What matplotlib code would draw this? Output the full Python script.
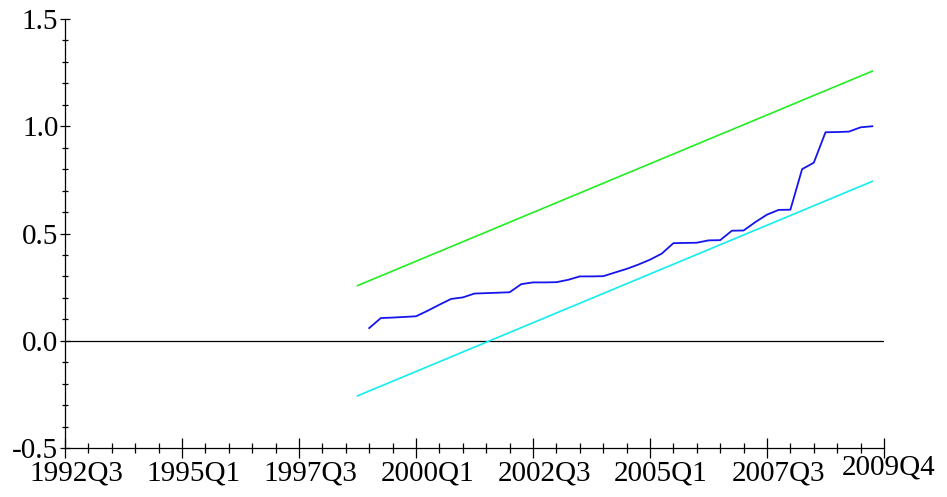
import matplotlib.pyplot as plt
from matplotlib.ticker import MultipleLocator
import matplotlib.transforms as mtransforms
import numpy as np

plt.rcParams['font.family'] = ['Liberation Serif', 'DejaVu Serif']

# quarter index, 0 = 1992Q3 ... 69 = 2009Q4
tick_pos = [0, 10, 20, 30, 40, 50, 60, 70]
tick_labels = ['1992Q3', '1995Q1', '1997Q3', '2000Q1', '2002Q3', '2005Q1',
               '2007Q3', '2009Q4']

# CUSUM of squares (1998Q4+1 .. 2009Q4)
cusumsq_x = np.arange(26, 70)
cusumsq = [0.059, 0.106, 0.108, 0.111, 0.114, 0.140, 0.168, 0.195, 0.202,
           0.220, 0.222, 0.224, 0.226, 0.264, 0.272, 0.272, 0.273, 0.284,
           0.300, 0.300, 0.301, 0.318, 0.335, 0.355, 0.378, 0.406, 0.455,
           0.456, 0.457, 0.468, 0.469, 0.513, 0.514, 0.553, 0.588, 0.610,
           0.611, 0.800, 0.830, 0.972, 0.973, 0.975, 0.995, 1.000]

# 5% bands
band_x = [25, 69]
upper = [0.257, 1.257]
lower = [-0.257, 0.743]

fig = plt.figure(figsize=(9.47, 4.97), dpi=100, facecolor='w')
ax = fig.add_axes([65/947, 49/497, (884-65)/947, (448-19)/497])

ax.axhline(0, color='black', lw=0.9)
ax.plot(band_x, upper, color='#22ee22', lw=1.2)
ax.plot(band_x, lower, color='#11eeee', lw=1.2)
ax.plot(cusumsq_x, cusumsq, color='#1515ee', lw=1.3)

ax.set_xlim(0, 70)
ax.set_ylim(-0.5, 1.5)
for s in ['top', 'right']:
    ax.spines[s].set_visible(False)
for s in ['left', 'bottom']:
    ax.spines[s].set_linewidth(0.9)

ax.set_xticks(tick_pos)
ax.set_xticklabels(tick_labels)
ax.xaxis.set_minor_locator(MultipleLocator(2))
ax.set_yticks([-0.5, 0.0, 0.5, 1.0, 1.5])
ax.set_yticklabels(['-0.5', '0.0', '0.5', '1.0', '1.5'])
ax.yaxis.set_minor_locator(MultipleLocator(0.1))

ax.tick_params(axis='x', which='major', direction='inout', length=14,
               width=0.9, labelsize=21, pad=2)
ax.tick_params(axis='x', which='minor', direction='inout', length=7.5,
               width=0.9)
ax.tick_params(axis='y', which='major', direction='inout', length=7.5,
               width=0.9, labelsize=21, pad=1)
ax.tick_params(axis='y', which='minor', direction='inout', length=5,
               width=0.9)

# labels sit a little right of their ticks; last one raised
for i, lab in enumerate(ax.get_xticklabels()):
    last = i == len(tick_labels) - 1
    dx = 3.6/72 if last else 8/72
    dy = 4/72 if last else 0
    lab.set_transform(lab.get_transform() +
                      mtransforms.ScaledTranslation(dx, dy, fig.dpi_scale_trans))

fig.savefig('out.png', dpi=100)
